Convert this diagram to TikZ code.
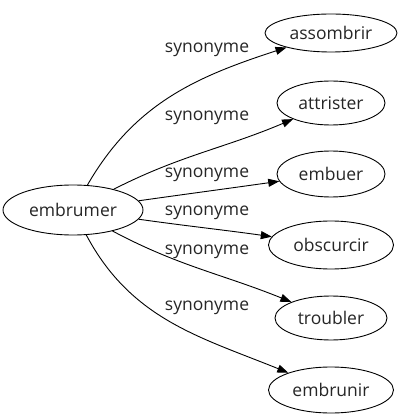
\documentclass[tikz,border=0pt]{standalone}
\usepackage{fontspec}
\setmainfont{Open Sans}
\usetikzlibrary{arrows.meta,shapes.geometric}
\begin{document}
\begin{tikzpicture}[x=1pt,y=-1pt,
  word/.style={draw=black,line width=0.9pt,shape=ellipse,inner sep=0pt,font=\fontsize{17.5}{20}\selectfont,text=black!85},
  lbl/.style={font=\fontsize{17.5}{20}\selectfont,text=black!85,inner sep=0pt},
  syn/.style={line width=0.9pt,-{Triangle[length=11pt,width=8pt]}}]
\useasboundingbox (0,0) rectangle (402,419);
\node[word,minimum width=140pt,minimum height=50pt] (src) at (73,210) {embrumer};
\node[word,minimum width=132pt,minimum height=38pt] (a) at (331,33) {assombrir};
\node[word,minimum width=108pt,minimum height=44pt] (b) at (331,103) {attrister};
\node[word,minimum width=108pt,minimum height=46pt] (c) at (331,174) {embuer};
\node[word,minimum width=125pt,minimum height=48pt] (d) at (331,245) {obscurcir};
\node[word,minimum width=112pt,minimum height=44pt] (e) at (331,318) {troubler};
\node[word,minimum width=125pt,minimum height=46pt] (f) at (331,390) {embrunir};
\draw[syn] (src) to[out=60,in=198] (a);
\draw[syn] (src) to[out=27,in=203] (b);
\draw[syn] (src) to[out=8,in=188] (c);
\draw[syn] (src) to[out=-8,in=172] (d);
\draw[syn] (src) to[out=-28,in=158] (e);
\draw[syn] (src) to[out=-62,in=158] (f);
\node[lbl] (la) at (207,50) {synonyme};
\node[lbl] (lb) at (207,118) {synonyme};
\node[lbl] (lc) at (207,175) {synonyme};
\node[lbl] (ld) at (207,213) {synonyme};
\node[lbl] (le) at (207,252) {synonyme};
\node[lbl] (lf) at (207,308) {synonyme};
\end{tikzpicture}
\end{document}
